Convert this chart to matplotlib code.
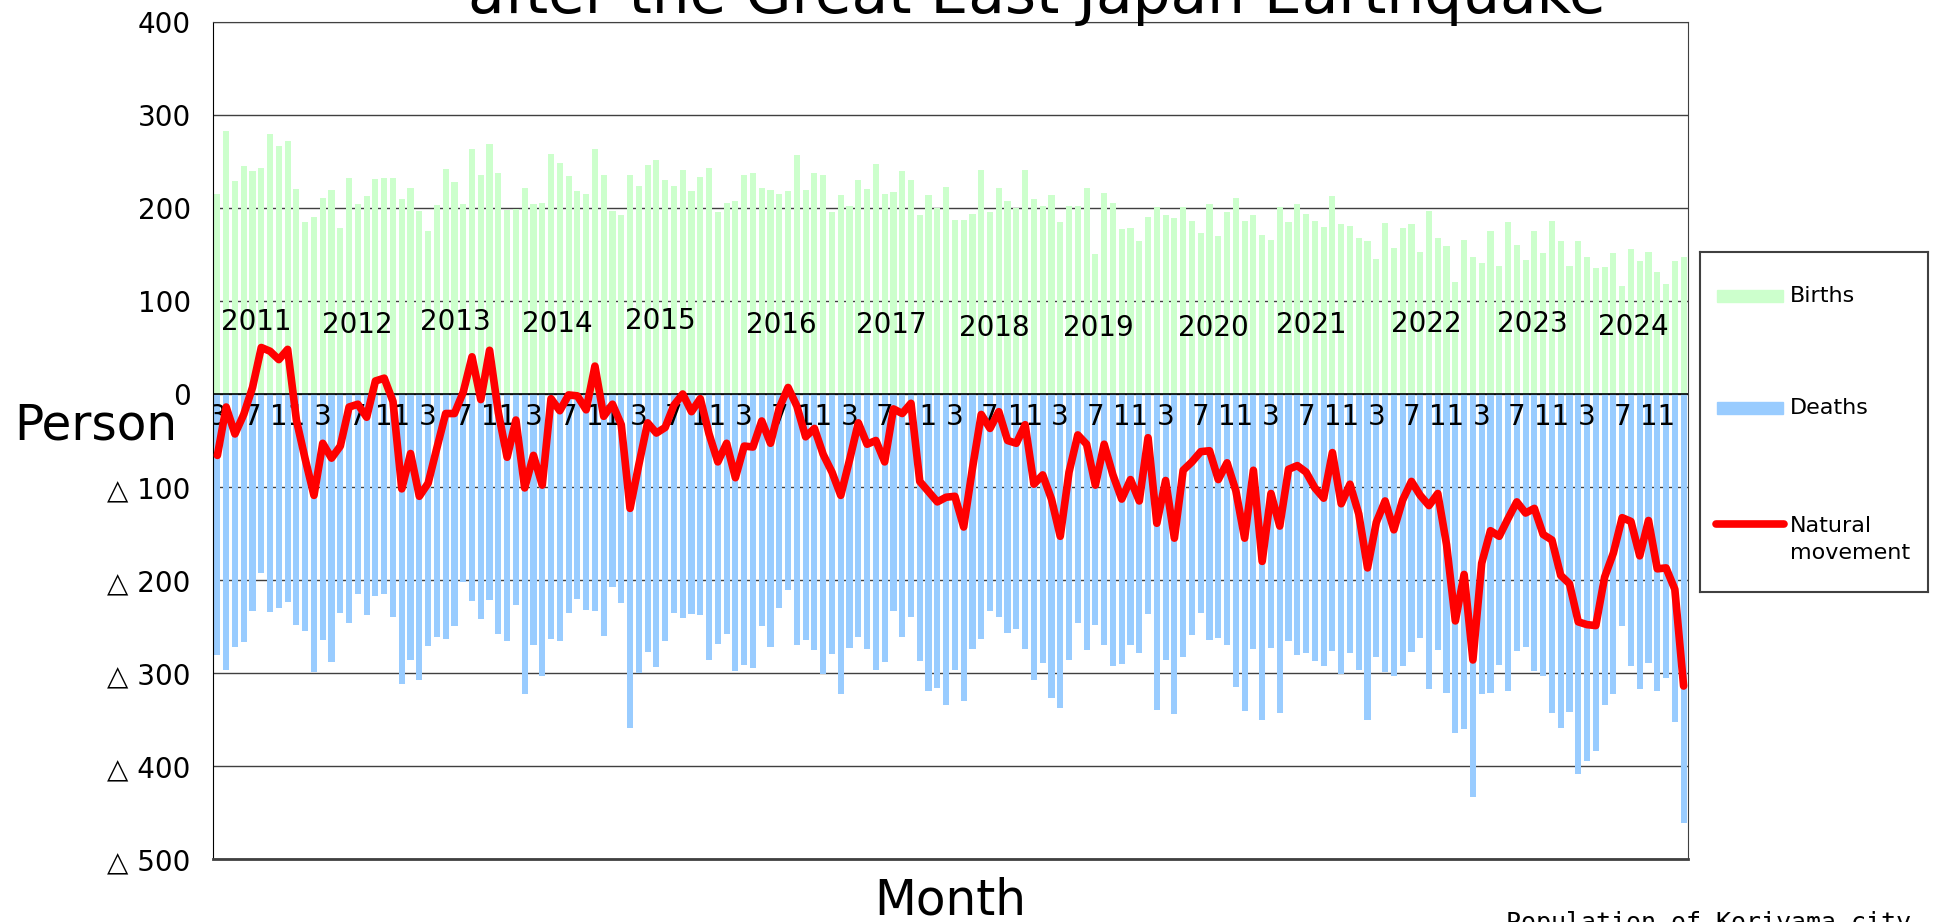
import numpy as np
import matplotlib
matplotlib.use('Agg')
import matplotlib.pyplot as plt
from matplotlib.patches import Rectangle
from matplotlib.lines import Line2D

# monthly figures, March 2011 .. February 2025
births = [215, 283, 229, 245, 240, 243, 280, 267, 272, 220,
          185, 190, 211, 219, 179, 232, 204, 213, 231, 232, 232, 210,
          222, 197, 175, 203, 242, 228, 204, 263, 236, 269, 238, 198,
          199, 222, 204, 205, 258, 248, 234, 218, 215, 263, 236, 197,
          192, 236, 224, 246, 252, 230, 224, 241, 218, 233, 243, 196,
          205, 208, 235, 238, 221, 219, 215, 218, 257, 219, 238, 236,
          196, 214, 202, 230, 220, 247, 215, 217, 240, 230, 193, 214,
          200, 223, 187, 187, 194, 241, 196, 221, 207, 200, 241, 210,
          202, 214, 185, 202, 202, 221, 150, 216, 205, 177, 178, 164,
          190, 201, 193, 189, 201, 186, 173, 204, 170, 196, 211, 186,
          192, 171, 166, 201, 185, 204, 194, 186, 180, 213, 183, 181,
          168, 164, 145, 184, 157, 179, 183, 153, 197, 168, 159, 120,
          166, 147, 141, 175, 138, 185, 160, 144, 175, 152, 186, 164,
          138, 164, 147, 135, 137, 152, 116, 156, 143, 153, 131, 118,
          143, 147]

deaths = [281, 297, 272, 267, 233, 193, 234, 230, 224, 248,
          255, 299, 264, 288, 235, 246, 215, 238, 217, 215, 240, 312,
          286, 307, 271, 261, 263, 249, 202, 223, 242, 222, 258, 266,
          227, 323, 270, 303, 263, 266, 235, 220, 232, 233, 260, 208,
          225, 359, 300, 277, 294, 266, 236, 241, 237, 238, 286, 269,
          258, 298, 291, 295, 250, 272, 230, 211, 270, 265, 275, 301,
          280, 323, 273, 261, 274, 297, 288, 233, 261, 240, 287, 319,
          316, 334, 297, 330, 274, 263, 233, 240, 257, 253, 274, 307,
          289, 327, 338, 286, 246, 275, 248, 270, 292, 290, 270, 279,
          237, 340, 286, 344, 283, 259, 235, 265, 262, 270, 315, 341,
          274, 351, 273, 343, 266, 281, 278, 287, 292, 276, 301, 278,
          297, 351, 283, 299, 303, 293, 277, 262, 317, 275, 321, 364,
          360, 433, 323, 322, 291, 319, 276, 272, 298, 303, 343, 359,
          342, 409, 395, 384, 334, 323, 249, 293, 317, 289, 319, 305,
          353, 461]

natural = [-66, -14, -43, -22, 7, 50, 46, 37, 48, -28,
           -70, -109, -53, -69, -56, -14, -11, -25, 14, 17, -8, -102,
           -64, -110, -96, -58, -21, -21, 2, 40, -6, 47, -20, -68,
           -28, -101, -66, -98, -5, -18, -1, -2, -17, 30, -24, -11,
           -33, -123, -76, -31, -42, -36, -12, 0, -19, -5, -43, -73,
           -53, -90, -56, -57, -29, -53, -15, 7, -13, -46, -37, -65,
           -84, -109, -71, -31, -54, -50, -73, -16, -21, -10, -94, -105,
           -116, -111, -110, -143, -80, -22, -37, -19, -50, -53, -33, -97,
           -87, -113, -153, -84, -44, -54, -98, -54, -87, -113, -92, -115,
           -47, -139, -93, -155, -82, -73, -62, -61, -92, -74, -104, -155,
           -82, -180, -107, -142, -81, -77, -84, -101, -112, -63, -118, -97,
           -129, -187, -138, -115, -146, -114, -94, -109, -120, -107, -162, -244,
           -194, -286, -182, -147, -153, -134, -116, -128, -123, -151, -157, -195,
           -204, -245, -248, -249, -197, -171, -133, -137, -174, -136, -188, -187,
           -210, -314]

months = [m for y in range(2011, 2026) for m in range(1, 13)][2:2 + len(births)]
shown_months = [3, 7, 11]
years = ['2011', '2012', '2013', '2014', '2015', '2016', '2017',
         '2018', '2019', '2020', '2021', '2022', '2023', '2024']
# where the year captions sit (bar index, height)
year_x = [4.4, 15.9, 27.1, 38.7, 50.5, 64.2, 76.8, 88.5, 100.3,
          113.4, 124.6, 137.7, 149.8, 161.3]
year_y = [77, 74, 77, 75, 78, 74, 74, 71, 71, 71, 74, 75, 75, 72]
y_ticks = [-500, -400, -300, -200, -100, 0, 100, 200, 300, 400]

W, H = 1935, 922
fig = plt.figure(figsize=(W / 100, H / 100), dpi=100)
ax = fig.add_axes([213 / W, 1 - 859 / H, (1688 - 213) / W, (859 - 22) / H])

x = np.arange(len(births))
ax.bar(x, births, width=0.7, color='#CCFFCC', zorder=2)
ax.bar(x, [-d for d in deaths], width=0.7, color='#99CCFF', zorder=2)
ax.axhline(0, color='black', lw=1.2, zorder=3)
ax.plot(x, natural, color='#FF0000', lw=5.5, solid_joinstyle='round',
        solid_capstyle='round', zorder=5)

ax.set_xlim(-0.5, len(births) - 0.5)
ax.set_ylim(-500, 400)
ax.set_yticks(y_ticks)
ax.set_yticklabels([str(v) if v >= 0 else '\u25b3 %d' % -v for v in y_ticks])
ax.tick_params(axis='y', length=0, pad=16, labelsize=20)
ax.set_xticks([])
ax.grid(axis='y', color='#404040', lw=1.0)
ax.set_axisbelow(True)
for s in ax.spines.values():
    s.set_color('#404040')
ax.spines['left'].set_color('black')
ax.spines['bottom'].set_linewidth(2)

for i, m in enumerate(months):
    if m in shown_months:
        ax.text(i, -25, str(m), ha='center', va='center', fontsize=20,
                clip_on=True, zorder=4)
for yr, xx, yy in zip(years, year_x, year_y):
    ax.text(xx, yy, yr, ha='center', va='center', fontsize=20, zorder=4)

fig.text(96 / W, 1 - 440 / H, 'Person', ha='center', va='baseline', fontsize=35)
fig.text(950 / W, 1 - 914 / H, 'Month', ha='center', va='baseline', fontsize=35)
fig.text(1037 / W, 1 - 13 / H, 'after the Great East Japan Earthquake',
         ha='center', va='baseline', fontsize=43)
fig.text(1506 / W, 1 - 911 / H, 'Population of Koriyama city',
         family='DejaVu Sans Mono', ha='left', va='top', fontsize=18)

# legend box
lg = fig.add_axes([1700 / W, 1 - 592 / H, 228 / W, 340 / H])
lg.set_xlim(0, 1)
lg.set_ylim(0, 1)
lg.set_xticks([])
lg.set_yticks([])
for s in lg.spines.values():
    s.set_color('#404040')
    s.set_linewidth(1.5)
lg.add_patch(Rectangle((0.075, 0.852), 0.29, 0.036, color='#CCFFCC'))
lg.text(0.395, 0.87, 'Births', va='center', fontsize=16)
lg.add_patch(Rectangle((0.075, 0.523), 0.29, 0.036, color='#99CCFF'))
lg.text(0.395, 0.54, 'Deaths', va='center', fontsize=16)
lg.add_line(Line2D([0.07, 0.37], [0.2, 0.2], color='#FF0000', lw=5.5,
                   solid_capstyle='round'))
lg.text(0.395, 0.155, 'Natural\nmovement', va='center', fontsize=16,
        linespacing=1.45)

fig.savefig('out.png', dpi=100)
